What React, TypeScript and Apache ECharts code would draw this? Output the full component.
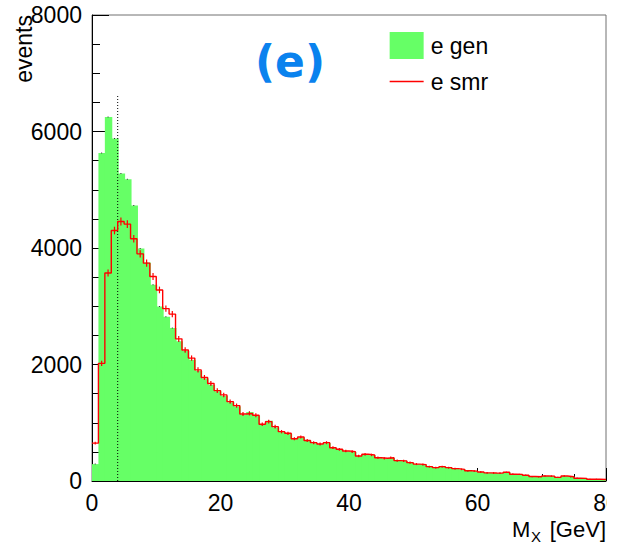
import React, { useEffect, useRef } from "react";
import * as echarts from "echarts";

// Bin width 1 GeV, 80 bins from 0 to 80
const binWidth = 1;
const genCounts = [
  290, 5630, 6250, 5880, 5280, 5180, 4730, 3990, 3750, 3370,
  2995, 2820, 2625, 2400, 2230, 2080, 1890, 1760, 1650, 1540,
  1460, 1350, 1280, 1140, 1185, 1120, 965, 1035, 920, 840,
  810, 720, 748, 690, 650, 630, 650, 565, 540, 510,
  498, 428, 452, 442, 398, 386, 396, 346, 342, 312,
  287, 280, 244, 226, 243, 227, 210, 198, 173, 168,
  153, 139, 136, 133, 146, 116, 112, 97, 75, 71,
  85, 83, 62, 84, 73, 47, 44, 30, 28, 26,
];
const smrCounts = [
  650, 2020, 3570, 4300, 4455, 4410, 4160, 3900, 3740, 3510,
  3280, 2960, 2865, 2440, 2250, 2110, 1907, 1778, 1675, 1552,
  1478, 1363, 1294, 1151, 1160, 1130, 975, 1019, 933, 847,
  819, 725, 755, 695, 658, 636, 658, 572, 544, 515,
  504, 430, 458, 447, 400, 390, 400, 350, 345, 315,
  290, 282, 246, 229, 246, 229, 212, 200, 175, 170,
  155, 140, 137, 135, 149, 117, 113, 98, 76, 72,
  86, 84, 63, 86, 74, 48, 45, 30, 29, 27,
];
const xTicks = [0, 20, 40, 60, 80];
const yTicks = [0, 2000, 4000, 6000, 8000];
const cutPosition = 4;
const cutLineTop = 6630;
const genName = "e gen";
const smrName = "e smr";

const FONT = "'Liberation Sans', Arial, Helvetica, sans-serif";
const GREEN = "#66ff66";
const RED = "#ff0000";

export default function App() {
  const ref = useRef<HTMLDivElement>(null);

  useEffect(() => {
    if (!ref.current) return;
    const chart = echarts.init(ref.current, null, { renderer: "svg" });

    const nBins = genCounts.length;
    const genData = genCounts.map((v, i) => [i * binWidth, (i + 1) * binWidth, v, i === nBins - 1 ? 0 : 1]);
    const smrStep = smrCounts.map((v, i) => [i * binWidth, v]);
    smrStep.push([smrCounts.length * binWidth, smrCounts[smrCounts.length - 1]]);
    const smrErr = smrCounts.map((v, i) => [(i + 0.5) * binWidth, v]);

    const option: any = {
      animation: false,
      backgroundColor: "#ffffff",
      grid: {
        left: 92,
        right: 1,
        top: 15,
        bottom: 64,
        containLabel: false,
        outerBoundsMode: "none",
        show: true,
        borderColor: "#707070",
        borderWidth: 1,
        backgroundColor: "transparent",
      },
      legend: {
        orient: "vertical",
        left: 389,
        top: 32,
        padding: 0,
        itemWidth: 34,
        itemHeight: 27,
        itemGap: 11,
        data: [
          { name: genName, icon: "rect", itemStyle: { color: GREEN } },
          { name: smrName, itemStyle: { opacity: 0 }, lineStyle: { color: RED, width: 1.3 } },
        ],
        textStyle: { fontSize: 23, color: "#000", fontFamily: FONT, padding: [0, 0, 0, 2] },
        selectedMode: false,
      },
      xAxis: {
        type: "value",
        min: xTicks[0],
        max: xTicks[xTicks.length - 1],
        interval: xTicks[1] - xTicks[0],
        axisLine: { show: true, onZero: false, lineStyle: { color: "#000", width: 1 } },
        axisTick: { show: true, inside: true, length: 13, lineStyle: { color: "#000" } },
        minorTick: { show: true, splitNumber: 4, length: 7, lineStyle: { color: "#000" } },
        axisLabel: {
          fontSize: 23,
          color: "#000",
          fontFamily: FONT,
          margin: 10,
          showMaxLabel: true,
          formatter: (v: number) => String(v),
        },
        splitLine: { show: false },
      },
      yAxis: {
        type: "value",
        min: yTicks[0],
        max: yTicks[yTicks.length - 1],
        interval: yTicks[1] - yTicks[0],
        axisLine: { show: true, onZero: false, lineStyle: { color: "#000", width: 1 } },
        axisTick: { show: true, inside: true, length: 17, lineStyle: { color: "#000" } },
        minorTick: { show: true, splitNumber: 4, length: 8, lineStyle: { color: "#000" } },
        axisLabel: {
          fontSize: 23,
          color: "#000",
          fontFamily: FONT,
          margin: 10,
          showMaxLabel: true,
          formatter: (v: number) => String(v),
        },
        splitLine: { show: false },
      },
      graphic: [
        {
          type: "text",
          x: 24,
          y: 15,
          rotation: Math.PI / 2,
          style: {
            text: "events",
            fontSize: 23,
            fontFamily: FONT,
            fill: "#000",
            align: "right",
            verticalAlign: "middle",
          },
        },
        {
          type: "text",
          x: 512,
          y: 529,
          style: { text: "M", fontSize: 22, fontFamily: FONT, fill: "#000", align: "left", verticalAlign: "middle" },
        },
        {
          type: "text",
          x: 531,
          y: 536.5,
          style: { text: "X", fontSize: 15, fontFamily: FONT, fill: "#000", align: "left", verticalAlign: "middle" },
        },
        {
          type: "text",
          x: 606,
          y: 529,
          style: { text: "[GeV]", fontSize: 22, fontFamily: FONT, fill: "#000", align: "right", verticalAlign: "middle" },
        },
        {
          type: "text",
          x: 290,
          y: 61,
          style: {
            text: "(e)",
            fontSize: 44,
            fontWeight: "bold",
            fontFamily: "'DejaVu Sans', sans-serif",
            fill: "#0a82ee",
            align: "center",
            verticalAlign: "middle",
          },
        },
      ],
      series: [
        {
          name: genName,
          type: "custom",
          itemStyle: { color: GREEN },
          encode: { x: [0, 1], y: 2 },
          data: genData,
          z: 1,
          renderItem: (params: any, api: any) => {
            const lo = api.value(0);
            const hi = api.value(1);
            const v = api.value(2);
            const overlap = api.value(3);
            const p1 = api.coord([lo, v]);
            const p2 = api.coord([hi, 0]);
            const pc = api.coord([(lo + hi) / 2, v]);
            return {
              type: "group",
              children: [
                {
                  type: "rect",
                  shape: { x: p1[0], y: p1[1], width: p2[0] - p1[0] + overlap, height: p2[1] - p1[1] },
                  style: { fill: GREEN },
                },
                {
                  type: "rect",
                  shape: { x: pc[0] - 0.5, y: pc[1] - 0.5, width: 1, height: 1 },
                  style: { fill: "#333" },
                },
              ],
            };
          },
        },
        {
          name: "cut",
          type: "line",
          data: [
            [cutPosition, 0],
            [cutPosition, cutLineTop],
          ],
          symbol: "none",
          lineStyle: { color: "#000", width: 1, type: [1, 2] },
          z: 2,
          silent: true,
        },
        {
          name: smrName,
          type: "line",
          step: "end",
          data: smrStep,
          symbol: "none",
          showSymbol: false,
          color: RED,
          itemStyle: { color: RED },
          lineStyle: { color: RED, width: 1.4 },
          z: 3,
        },
        {
          name: "smr errors",
          type: "custom",
          data: smrErr,
          encode: { x: 0, y: 1 },
          z: 4,
          renderItem: (params: any, api: any) => {
            const x = api.value(0);
            const v = api.value(1);
            const e = Math.sqrt(v);
            const a = api.coord([x, v - e]);
            const b = api.coord([x, v + e]);
            return {
              type: "line",
              shape: { x1: a[0], y1: a[1], x2: b[0], y2: b[1] },
              style: { stroke: RED, lineWidth: 1.2 },
            };
          },
        },
      ],
    };

    chart.setOption(option);
    return () => chart.dispose();
  }, []);

  return (
    <div style={{ position: "fixed", left: 0, top: 0, width: 619, height: 545, background: "#fff" }}>
      <div ref={ref} style={{ width: 607, height: 545, overflow: "hidden" }} />
    </div>
  );
}
